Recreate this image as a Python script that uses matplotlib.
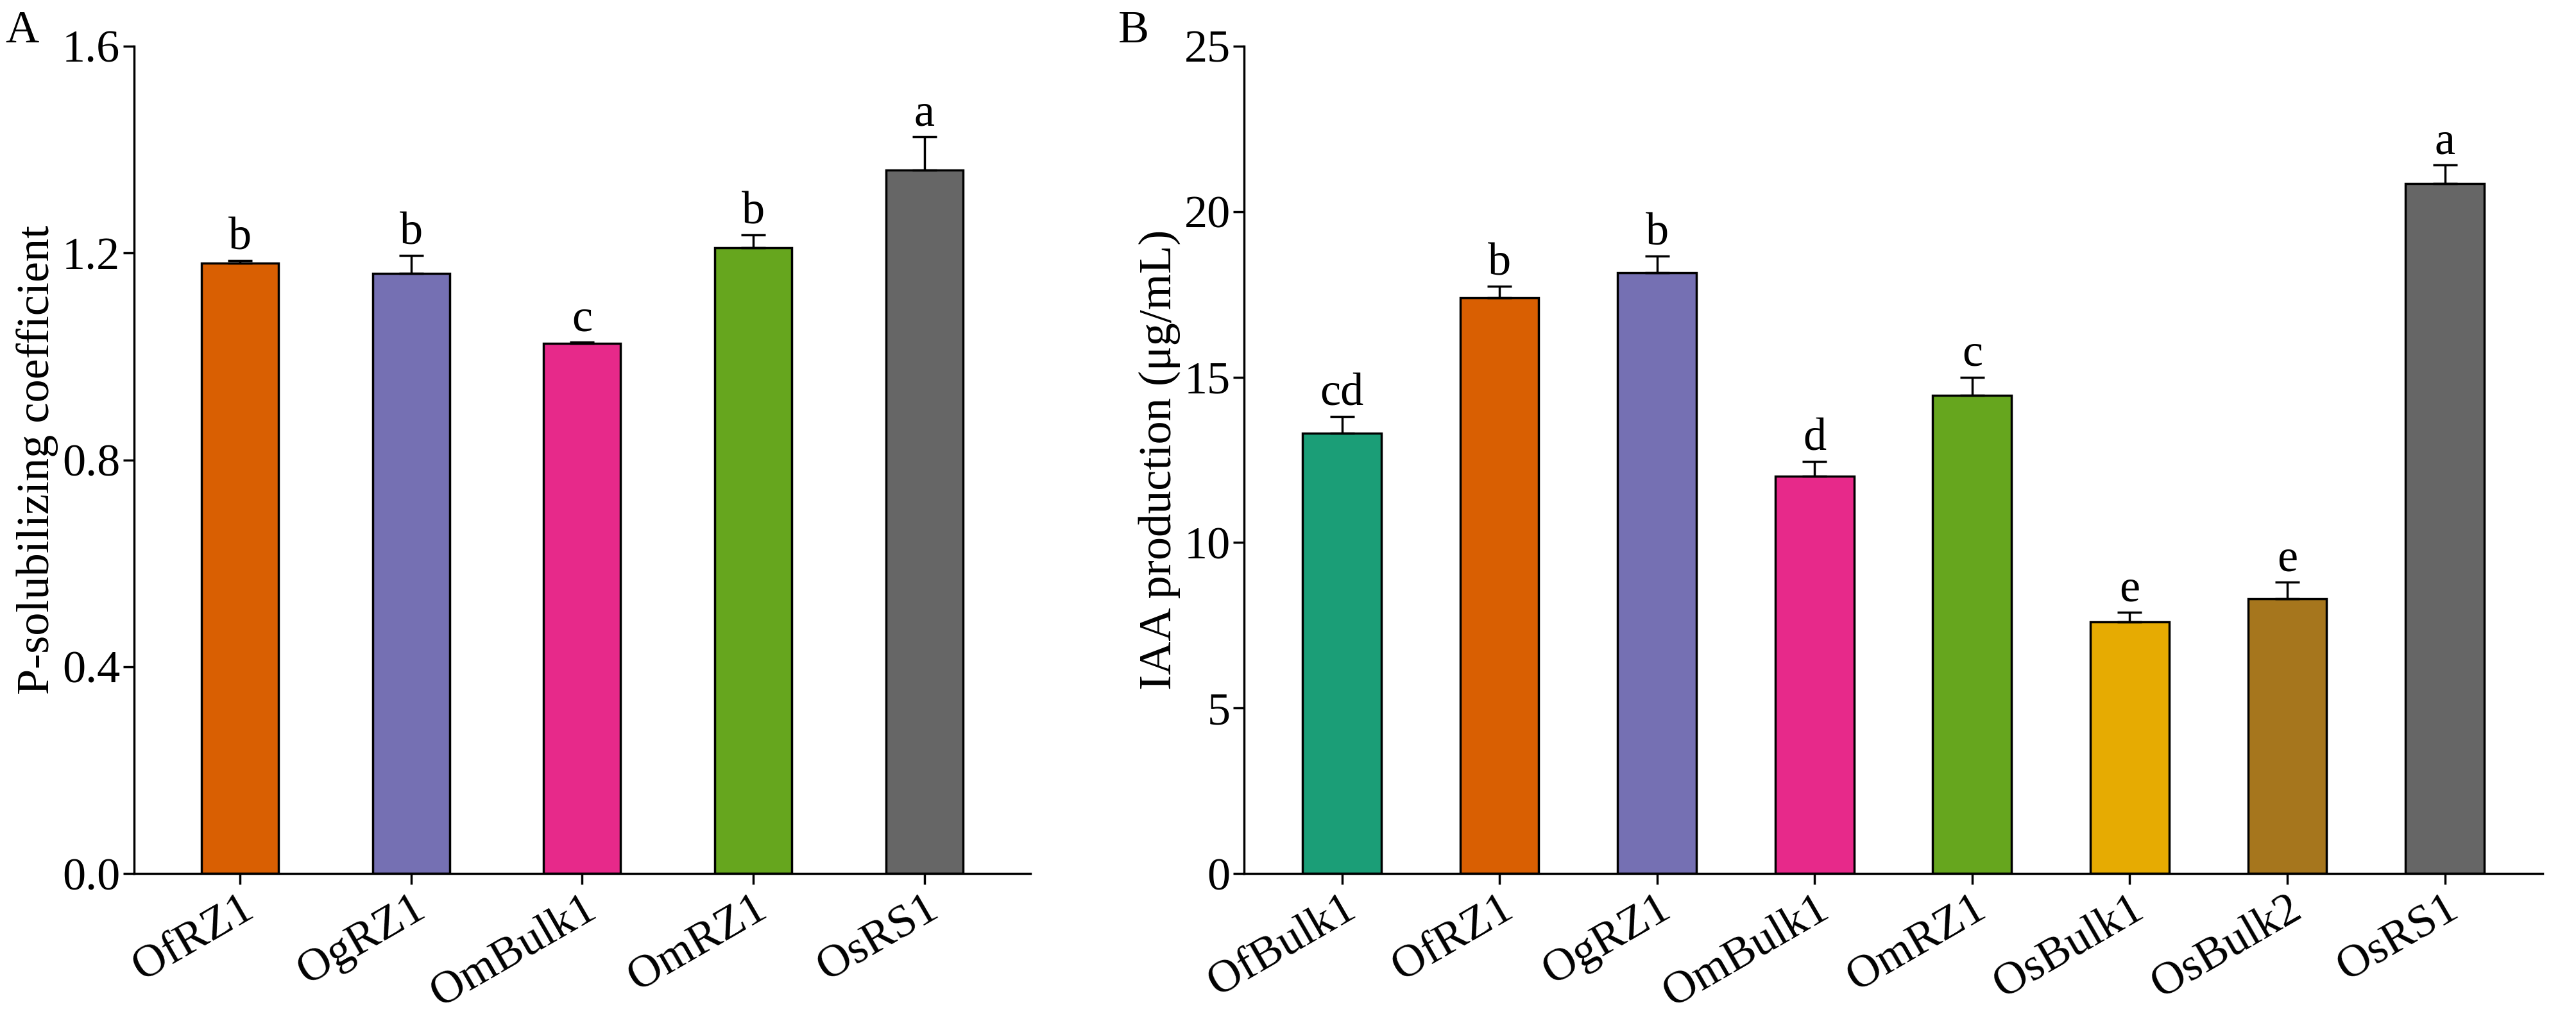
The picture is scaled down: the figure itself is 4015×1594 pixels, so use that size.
import matplotlib
matplotlib.use("Agg")
import matplotlib.pyplot as plt

plt.rcParams['font.family'] = ['Liberation Serif', 'DejaVu Serif']

# panel A data
a_names = ['OfRZ1', 'OgRZ1', 'OmBulk1', 'OmRZ1', 'OsRS1']
a_vals = [1.18, 1.16, 1.025, 1.21, 1.36]
a_err = [0.005, 0.035, 0.003, 0.025, 0.065]
a_sig = ['b', 'b', 'c', 'b', 'a']
a_cols = ['#d95f02', '#7570b3', '#e7298a', '#66a61e', '#666666']

# panel B data
b_names = ['OfBulk1', 'OfRZ1', 'OgRZ1', 'OmBulk1', 'OmRZ1', 'OsBulk1', 'OsBulk2', 'OsRS1']
b_vals = [13.3, 17.4, 18.15, 12.0, 14.45, 7.6, 8.3, 20.85]
b_err = [0.5, 0.35, 0.5, 0.45, 0.55, 0.3, 0.5, 0.55]
b_sig = ['cd', 'b', 'b', 'd', 'c', 'e', 'e', 'a']
b_cols = ['#1b9e77', '#d95f02', '#7570b3', '#e7298a', '#66a61e', '#e6ab02', '#a6761d', '#666666']

FS = 52

fig = plt.figure(figsize=(40.15, 15.94), dpi=100)
axA = fig.add_axes([0.052, 0.146, 0.348, 0.809])
axB = fig.add_axes([0.483, 0.146, 0.504, 0.809])

def panel(ax, names, vals, err, sig, cols, width, ylim, ticks, ylabel, off):
    x = range(len(names))
    ax.bar(x, vals, width=width, color=cols, edgecolor='black', linewidth=2.5, zorder=2)
    ax.errorbar(x, vals, yerr=[[0] * len(err), err], fmt='none', ecolor='black',
                elinewidth=2.5, capsize=14, capthick=2.5, zorder=3)
    for i, (v, e, s) in enumerate(zip(vals, err, sig)):
        ax.text(i, v + e + off, s, ha='center', va='bottom', fontsize=FS)
    ax.set_xlim(-0.62, len(names) - 0.38)
    ax.set_ylim(*ylim)
    ax.set_yticks(ticks)
    ax.set_xticks(list(x))
    ax.set_xticklabels(names, rotation=30, ha='right', rotation_mode='anchor')
    ax.set_ylabel(ylabel, fontsize=FS, labelpad=4)
    ax.tick_params(labelsize=FS, width=2.5, length=12, direction='out')
    for s in ['top', 'right']:
        ax.spines[s].set_visible(False)
    for s in ['left', 'bottom']:
        ax.spines[s].set_linewidth(2.5)

panel(axA, a_names, a_vals, a_err, a_sig, a_cols, 0.45, (0, 1.6),
      [0.0, 0.4, 0.8, 1.2, 1.6], 'P-solubilizing coefficient', 0.003)
axA.set_yticklabels(['0.0', '0.4', '0.8', '1.2', '1.6'])
panel(axB, b_names, b_vals, b_err, b_sig, b_cols, 0.5, (0, 25),
      [0, 5, 10, 15, 20, 25], 'IAA production (μg/mL)', 0.05)

fig.text(0.002, 0.99, 'A', fontsize=FS, va='top')
fig.text(0.434, 0.99, 'B', fontsize=FS, va='top')

fig.savefig('out.png', dpi=100)
